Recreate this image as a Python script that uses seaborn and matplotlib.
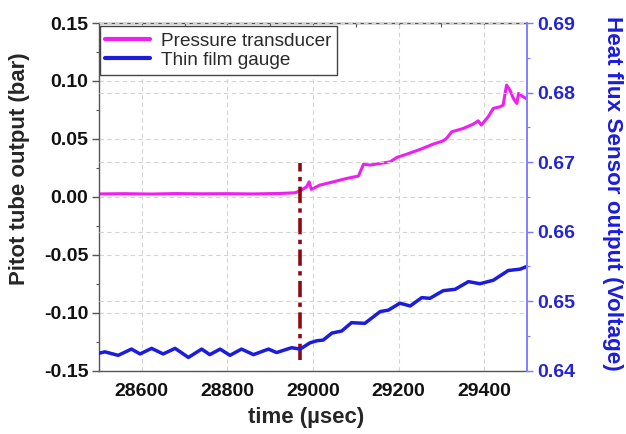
import matplotlib
matplotlib.use("Agg")
import matplotlib.pyplot as plt
from matplotlib.ticker import MultipleLocator, FormatStrFormatter
from matplotlib.lines import Line2D
import seaborn as sns
import pandas as pd

# ---- data ----------------------------------------------------------------
# Pressure transducer (Pitot tube output, bar)
pressure_time = [28500, 28560, 28620, 28680, 28740, 28800, 28860, 28923, 28958,
                 28970, 28985, 28991, 28996, 29016, 29047, 29079, 29106, 29112,
                 29118, 29133, 29157, 29180, 29196, 29219, 29250, 29281, 29304,
                 29312, 29324, 29351, 29374, 29386, 29393, 29409, 29421, 29437,
                 29444, 29452, 29460, 29468, 29476, 29480, 29491, 29500]
pressure_bar = [0.0025, 0.0027, 0.0024, 0.0028, 0.0026, 0.0027, 0.0025, 0.0029, 0.0035,
                0.0052, 0.0086, 0.0129, 0.0064, 0.0101, 0.0129, 0.0159, 0.0179, 0.0230,
                0.0282, 0.0274, 0.0288, 0.0302, 0.0340, 0.0368, 0.0409, 0.0455, 0.0483,
                0.0505, 0.0561, 0.0590, 0.0627, 0.0656, 0.0619, 0.0690, 0.0763, 0.0777,
                0.0791, 0.0964, 0.0921, 0.0849, 0.0806, 0.0892, 0.0863, 0.0845]

# Thin film gauge (heat flux sensor output, V)
gauge_time = [28500, 28514, 28545, 28576, 28596, 28623, 28650, 28678, 28709, 28740,
              28759, 28783, 28806, 28833, 28861, 28896, 28915, 28950, 28970, 28993,
              29009, 29024, 29044, 29067, 29090, 29121, 29157, 29176, 29203, 29227,
              29254, 29273, 29304, 29332, 29363, 29390, 29421, 29456, 29484, 29500]
gauge_volt = [0.6425, 0.6427, 0.6422, 0.6431, 0.6424, 0.6432, 0.6424, 0.6432, 0.6419, 0.6431,
              0.6423, 0.6431, 0.6422, 0.6431, 0.6423, 0.6431, 0.6426, 0.6433, 0.6431, 0.6440,
              0.6443, 0.6444, 0.6454, 0.6457, 0.6469, 0.6468, 0.6485, 0.6487, 0.6497, 0.6493,
              0.6505, 0.6504, 0.6515, 0.6517, 0.6528, 0.6525, 0.6530, 0.6544, 0.6546, 0.6550]

# shock arrival marker
event_time = 28970
event_low, event_high = -0.141, 0.029

x_ticks = [28600, 28800, 29000, 29200, 29400]
left_ticks = [-0.15, -0.10, -0.05, 0.00, 0.05, 0.10, 0.15]
right_ticks = [0.64, 0.65, 0.66, 0.67, 0.68, 0.69]

series_names = ["Pressure transducer", "Thin film gauge"]

# ---- styling ---------------------------------------------------------------
sns.set_style("white")
plt.rcParams["font.family"] = ["Liberation Sans", "DejaVu Sans"]

MAGENTA = "#f01ef0"
BLUE = "#1c1cdc"
TICK_BLUE = "#2424d6"
DARK_RED = "#8a0c12"
GRID = "#d4d4d4"
SPINE = "#555555"

pressure_df = pd.DataFrame({"time": pressure_time, "value": pressure_bar})
gauge_df = pd.DataFrame({"time": gauge_time, "value": gauge_volt})

fig, ax = plt.subplots(figsize=(6.26, 4.34), dpi=100)
fig.subplots_adjust(left=0.158, right=0.842, bottom=0.146, top=0.947)
ax2 = ax.twinx()

# grids (dashed, light)
ax.grid(True, which="major", axis="both", color=GRID, linestyle=(0, (4, 3)), linewidth=0.8)
ax2.grid(True, which="major", axis="y", color=GRID, linestyle=(0, (4, 3)), linewidth=0.8)
ax.set_axisbelow(True)
ax2.set_axisbelow(True)

sns.lineplot(data=pressure_df, x="time", y="value", ax=ax, color=MAGENTA,
             linewidth=2.2, estimator=None, sort=False, solid_joinstyle="round")
sns.lineplot(data=gauge_df, x="time", y="value", ax=ax2, color=BLUE,
             linewidth=2.5, estimator=None, sort=False, solid_joinstyle="round")
ax.vlines(event_time, event_low, event_high, colors=DARK_RED,
          linestyles=(0, (4.5, 1.5, 1.2, 1.5)), linewidth=2.6, zorder=3)

# limits and ticks
ax.set_xlim(28500, 29500)
ax.set_ylim(-0.15, 0.15)
ax2.set_ylim(0.64, 0.69)
ax.set_xticks(x_ticks)
ax.set_yticks(left_ticks)
ax2.set_yticks(right_ticks)
ax.xaxis.set_minor_locator(MultipleLocator(100))
ax.yaxis.set_minor_locator(MultipleLocator(0.025))
ax2.yaxis.set_minor_locator(MultipleLocator(0.005))
ax.yaxis.set_major_formatter(FormatStrFormatter("%.2f"))
ax2.yaxis.set_major_formatter(FormatStrFormatter("%.2f"))

for lab in ax.get_xticklabels() + ax.get_yticklabels():
    lab.set_fontweight("bold")
for lab in ax2.get_yticklabels():
    lab.set_fontweight("bold")

ax.tick_params(axis="both", which="major", direction="out", length=5, width=1,
               color=SPINE, labelsize=14, pad=2.5, labelcolor="#111111")
ax.tick_params(axis="both", which="minor", direction="out", length=2.5, width=0.8, color=SPINE)
ax.tick_params(axis="x", which="major", pad=4)
ax2.tick_params(axis="y", which="major", direction="out", length=4.5, width=1,
                color="#7a7aff", labelsize=14, labelcolor=TICK_BLUE, pad=3)
ax2.tick_params(axis="y", which="minor", direction="out", length=2.5, width=0.8, color="#7a7aff")

# inward ticks along the top edge
top = ax.secondary_xaxis("top")
top.set_xticks(list(range(28500, 29501, 100)))
top.tick_params(direction="in", length=3, width=0.8, color=SPINE, labeltop=False)
top.spines["top"].set_color(SPINE)

for side in ("left", "bottom", "top"):
    ax.spines[side].set_color(SPINE)
    ax.spines[side].set_linewidth(1.0)
for side in ("left", "bottom", "top"):
    ax2.spines[side].set_visible(False)
ax2.spines["right"].set_color("#8080ff")
ax2.spines["right"].set_linewidth(1.4)
ax.spines["right"].set_visible(False)

ax.set_xlabel("time (\u00b5sec)", fontsize=16, fontweight="bold")
ax.xaxis.set_label_coords(0.484, -0.105)
ax.set_ylabel("Pitot tube output (bar)", fontsize=16, fontweight="bold")
ax.yaxis.set_label_coords(-0.161, 0.58)
ax2.set_ylabel("Heat flux Sensor output (Voltage)", fontsize=16.2, fontweight="bold",
               color=BLUE, rotation=270, va="bottom")
ax2.yaxis.set_label_coords(1.174, 0.511)

handles = [Line2D([], [], color=MAGENTA, linewidth=3),
           Line2D([], [], color=BLUE, linewidth=3)]
leg = ax2.legend(handles, series_names, loc="upper left", bbox_to_anchor=(0.002, 0.99),
                 borderaxespad=0, fontsize=13.7, frameon=True, fancybox=False,
                 edgecolor="#444444", framealpha=1, handlelength=2.35,
                 handletextpad=0.55, labelspacing=0.12, borderpad=0.3)
leg.get_frame().set_linewidth(1.0)
for t in leg.get_texts():
    t.set_color("#2a2a2a")

fig.savefig("out.png", dpi=100)
